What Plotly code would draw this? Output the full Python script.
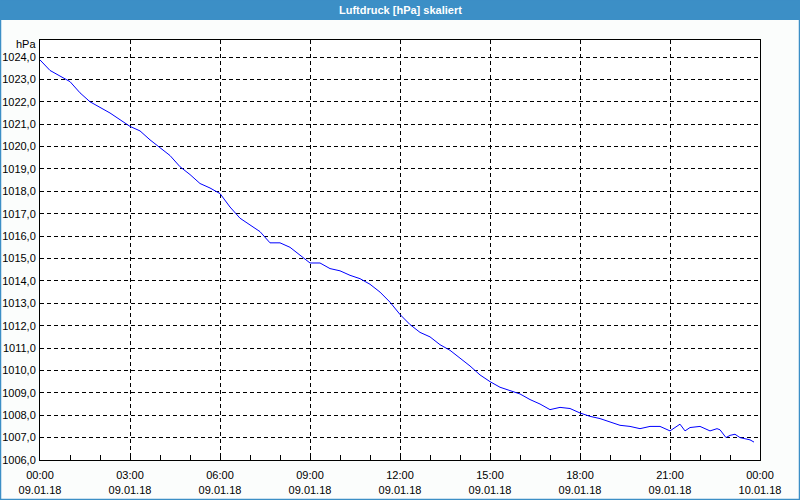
import plotly.graph_objects as go

times = ["00:00","00:20","00:40","01:00","01:20","01:40","02:00","02:20","02:40","03:00",
         "03:20","03:40","04:00","04:20","04:40","05:00","05:20","05:40","06:00","06:20",
         "06:40","07:00","07:20","07:40","08:00","08:20","08:40","09:00","09:20","09:40",
         "10:00","10:20","10:40","11:00","11:20","11:40","12:00","12:20","12:40","13:00",
         "13:20","13:40","14:00","14:20","14:40","15:00","15:20","15:40","16:00","16:20",
         "16:40","17:00","17:20","17:40","18:00","18:20","18:40","19:00","19:20","19:40",
         "20:00","20:20","20:40","21:00","21:20","21:30","21:40","22:00","22:20","22:34",
         "22:40","22:52","23:00","23:10","23:20","23:40","23:48"]
pressure = [1023.87,1023.4,1023.15,1022.9,1022.4,1022.0,1021.75,1021.5,1021.2,1020.9,
            1020.7,1020.3,1019.95,1019.6,1019.1,1018.75,1018.35,1018.15,1017.9,1017.3,
            1016.8,1016.5,1016.2,1015.7,1015.7,1015.5,1015.15,1014.8,1014.8,1014.55,
            1014.45,1014.25,1014.1,1013.85,1013.5,1013.05,1012.5,1012.05,1011.7,1011.5,
            1011.15,1010.9,1010.55,1010.2,1009.8,1009.5,1009.25,1009.1,1008.95,1008.7,
            1008.5,1008.25,1008.35,1008.3,1008.1,1007.95,1007.85,1007.7,1007.55,1007.5,
            1007.4,1007.5,1007.5,1007.3,1007.6,1007.3,1007.45,1007.5,1007.3,1007.4,
            1007.35,1007.0,1007.1,1007.15,1007.0,1006.9,1006.8]

x = ["2018-01-09 " + t for t in times]

tick_vals = ["2018-01-09 00:00","2018-01-09 03:00","2018-01-09 06:00","2018-01-09 09:00",
             "2018-01-09 12:00","2018-01-09 15:00","2018-01-09 18:00","2018-01-09 21:00",
             "2018-01-10 00:00"]
tick_text = ["00:00<br>09.01.18","03:00<br>09.01.18","06:00<br>09.01.18","09:00<br>09.01.18",
             "12:00<br>09.01.18","15:00<br>09.01.18","18:00<br>09.01.18","21:00<br>09.01.18",
             "00:00<br>10.01.18"]
y_vals = list(range(1006, 1025))
y_text = [f"{v},0" for v in y_vals]

BLUE = "#3c8fc6"
FONT = "Liberation Sans, Arial, sans-serif"

fig = go.Figure()
fig.add_trace(go.Scatter(x=x, y=pressure, mode="lines",
                         line=dict(color="#0000ff", width=1), showlegend=False,
                         hoverinfo="x+y"))

fig.update_layout(
    width=800, height=500,
    margin=dict(l=40, r=40, t=40, b=40, autoexpand=False),
    paper_bgcolor="#fbfdfc", plot_bgcolor="white",
    font=dict(family=FONT, size=11, color="black"),
    xaxis=dict(range=["2018-01-09 00:00", "2018-01-10 00:00"], type="date",
               tickvals=tick_vals, ticktext=tick_text, showgrid=True,
               gridcolor="black", griddash="4px,3px", gridwidth=1,
               showline=True, linecolor="black", linewidth=1, mirror=True,
               ticks="inside", ticklen=5, tickcolor="black",
               minor=dict(ticks="inside", ticklen=5, dtick=3600000, tickcolor="black", showgrid=False),
               zeroline=False, tickfont=dict(size=11), automargin=False,
               ticklabelstandoff=5),
    yaxis=dict(range=[1006, 1024.76], tickvals=y_vals, ticktext=y_text,
               showgrid=True, gridcolor="black", griddash="4px,3px", gridwidth=1,
               showline=True, linecolor="black", linewidth=1, mirror=True,
               ticks="", zeroline=False, tickfont=dict(size=11), automargin=False,
               ticklabelstandoff=1),
    shapes=[
        dict(type="rect", xref="paper", yref="paper",
             x0=-40/720, x1=1+40/720, y0=1+20/420, y1=1+40/420,
             fillcolor=BLUE, line=dict(width=0), layer="below"),
        dict(type="rect", xref="paper", yref="paper",
             x0=-40/720 + 0.5/720, x1=1+40/720 - 0.5/720, y0=-40/420 + 0.5/420, y1=1+40/420,
             fillcolor="rgba(0,0,0,0)", line=dict(color=BLUE, width=1.5)),
    ],
    annotations=[
        dict(text="<b>Luftdruck [hPa] skaliert</b>", xref="paper", yref="paper",
             x=0.5, y=1+30/420, xanchor="center", yanchor="middle", showarrow=False,
             font=dict(color="white", size=11, family=FONT)),
        dict(text="hPa", xref="paper", yref="paper", x=-2/720, y=1 - 4/420,
             xanchor="right", yanchor="middle", showarrow=False,
             font=dict(size=11, family=FONT)),
    ],
)

fig.write_html("out.html")
